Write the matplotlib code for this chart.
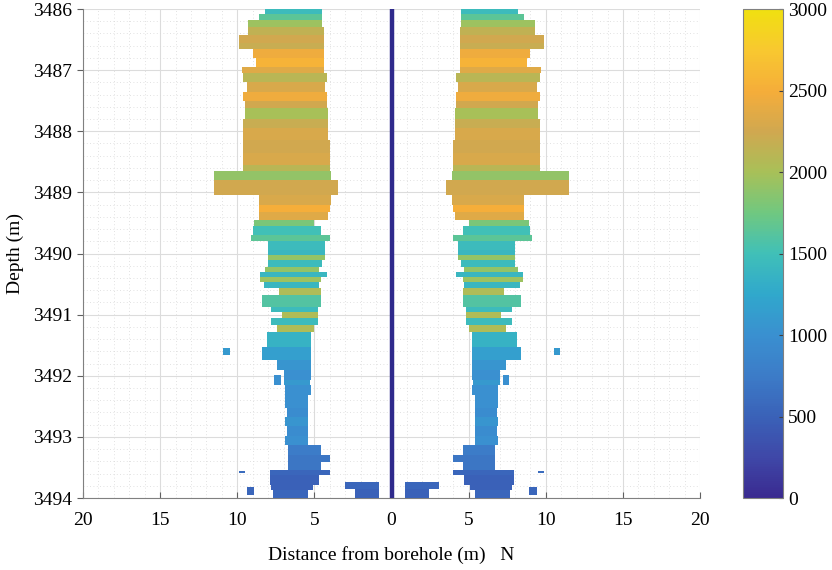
import matplotlib
matplotlib.use("Agg")
import matplotlib.pyplot as plt
from matplotlib.colors import LinearSegmentedColormap, Normalize
from matplotlib.ticker import MultipleLocator, FixedLocator
import numpy as np

plt.rcParams['font.family'] = ['Liberation Serif', 'DejaVu Serif']

# ---- data: depth bands (top, bottom) in m, outer / inner distance (m), value
band_top = [3486.00, 3486.08, 3486.18, 3486.30, 3486.42, 3486.55, 3486.65, 3486.80,
            3486.95, 3487.05, 3487.20, 3487.35, 3487.50, 3487.62, 3487.80, 3487.95,
            3488.15, 3488.35, 3488.55, 3488.65, 3488.80, 3489.05, 3489.20, 3489.32,
            3489.45, 3489.55, 3489.70, 3489.80, 3489.94, 3490.02, 3490.11, 3490.22,
            3490.30, 3490.38, 3490.47, 3490.56, 3490.68, 3490.88, 3490.96, 3491.06,
            3491.17, 3491.29, 3491.53, 3491.74, 3491.91, 3492.07, 3492.15, 3492.32,
            3492.53, 3492.68, 3492.83, 3492.98, 3493.13, 3493.30, 3493.41, 3493.54,
            3493.62, 3493.79, 3493.87]
band_bottom = band_top[1:] + [3494.00]
band_outer = [8.2, 8.6, 9.3, 9.3, 9.9, 9.9, 9.0, 8.8,
              9.7, 9.6, 9.4, 9.6, 9.5, 9.5, 9.6, 9.6,
              9.6, 9.6, 9.6, 11.5, 11.5, 8.6, 8.6, 8.6,
              8.9, 9.0, 9.1, 8.0, 8.0, 8.0, 8.0, 8.2,
              8.5, 8.5, 8.3, 7.3, 8.4, 7.8, 7.1, 7.8,
              7.4, 8.1, 8.4, 7.4, 7.0, 7.0, 6.9, 6.9,
              6.8, 6.9, 6.8, 6.9, 6.7, 6.7, 6.7, 7.9,
              7.9, 7.8, 7.7]
band_inner = [4.5, 4.5, 4.5, 4.4, 4.4, 4.4, 4.4, 4.4,
              4.4, 4.2, 4.3, 4.2, 4.2, 4.1, 4.1, 4.1,
              4.0, 4.0, 4.0, 3.9, 3.5, 3.9, 4.0, 4.1,
              5.0, 4.6, 4.0, 4.3, 4.3, 4.3, 4.5, 4.7,
              4.2, 4.6, 4.7, 4.6, 4.6, 4.8, 4.8, 4.8,
              5.0, 5.2, 5.2, 5.2, 5.2, 5.3, 5.2, 5.4,
              5.4, 5.4, 5.4, 5.4, 4.6, 4.0, 4.6, 4.0,
              4.7, 5.1, 5.4]
band_value = [1450, 1650, 1950, 2150, 2250, 2200, 2450, 2550,
              2350, 2100, 2300, 2450, 2250, 2000, 2200, 2300,
              2250, 2300, 2100, 1900, 2250, 2300, 2500, 2350,
              1800, 1500, 1650, 1450, 1400, 1900, 1450, 1900,
              1400, 1950, 1400, 2050, 1600, 1450, 2050, 1450,
              2050, 1350, 1150, 1050, 1000, 1100, 1000, 1000,
              950, 1050, 950, 1000, 750, 700, 700, 550,
              500, 500, 550]

# isolated patches: (top, bottom, outer, inner, value)
blob_top = [3491.55, 3491.99, 3493.56, 3493.82, 3493.74, 3493.85]
blob_bottom = [3491.66, 3492.15, 3493.59, 3493.95, 3493.85, 3494.00]
blob_outer = [10.9, 7.6, 9.9, 9.4, 3.05, 2.4]
blob_inner = [10.5, 7.2, 9.5, 8.9, 0.85, 0.85]
blob_value = [1100, 1000, 600, 550, 550, 500]

x_ticks = [-20, -15, -10, -5, 0, 5, 10, 15, 20]
x_ticklabels = ['20', '15', '10', '5', '0', '5', '10', '15', '20']
y_ticks = [3486, 3487, 3488, 3489, 3490, 3491, 3492, 3493, 3494]
cbar_ticks = [0, 500, 1000, 1500, 2000, 2500, 3000]

# colormap resembling the reference (parula-like)
stops = [(0.0, '#3a2a90'), (0.083, '#3f48a8'), (0.167, '#3a62b8'), (0.25, '#3c7cc8'),
         (0.333, '#3a90d0'), (0.417, '#30a8cc'), (0.5, '#40c0b8'), (0.583, '#70c880'),
         (0.667, '#a8c058'), (0.75, '#d0a850'), (0.833, '#f5ad3a'), (0.917, '#f8c830'),
         (1.0, '#f0e010')]
cmap = LinearSegmentedColormap.from_list('parula_like', stops)
norm = Normalize(0, 3000)

fig = plt.figure(figsize=(8.32, 5.70), dpi=100)
ax = fig.add_axes([0.0998, 0.1263, 0.7418, 0.8579])
cax = fig.add_axes([0.893, 0.1263, 0.048, 0.8579])

def draw(tops, bottoms, outers, inners, values):
    t = np.array(tops); b = np.array(bottoms)
    o = np.array(outers); i = np.array(inners)
    cols = cmap(norm(np.array(values)))
    h = b - t
    c = (t + b) / 2
    ax.barh(c, o - i, left=-o, height=h, color=cols, linewidth=0, zorder=3)
    ax.barh(c, o - i, left=i, height=h, color=cols, linewidth=0, zorder=3)

draw(band_top, band_bottom, band_outer, band_inner, band_value)
draw(blob_top, blob_bottom, blob_outer, blob_inner, blob_value)

ax.axvline(0, color='#2f2a8c', lw=3.2, zorder=4)

ax.set_xlim(-20, 20)
ax.set_ylim(3494, 3486)
ax.set_xticks(x_ticks)
ax.set_xticklabels(x_ticklabels)
ax.set_yticks(y_ticks)
ax.xaxis.set_minor_locator(MultipleLocator(1))
ax.yaxis.set_minor_locator(MultipleLocator(0.2))
ax.grid(which='major', color='#dcdcdc', lw=0.8, zorder=0)
ax.grid(which='minor', color='#d8d8d8', lw=0.6, ls=(0, (1, 3)), zorder=0)
ax.set_axisbelow(True)
for s in ['top', 'right']:
    ax.spines[s].set_visible(False)
for s in ['left', 'bottom']:
    ax.spines[s].set_color('#808080')
ax.tick_params(axis='x', which='major', direction='in', length=4, color='#606060',
               labelsize=14, pad=10)
ax.tick_params(axis='y', which='major', direction='out', length=4, color='#606060',
               labelsize=14, pad=4)
ax.tick_params(which='minor', length=0)
ax.set_xlabel('Distance from borehole (m)   N', fontsize=14, labelpad=12)
ax.set_ylabel('Depth (m)', fontsize=14, labelpad=6)

sm = matplotlib.cm.ScalarMappable(norm=norm, cmap=cmap)
cb = fig.colorbar(sm, cax=cax, ticks=cbar_ticks)
cb.outline.set_edgecolor('#808080')
cax.tick_params(labelsize=14, length=3, direction='in', color='#404040')

fig.savefig('out.png', dpi=100)
